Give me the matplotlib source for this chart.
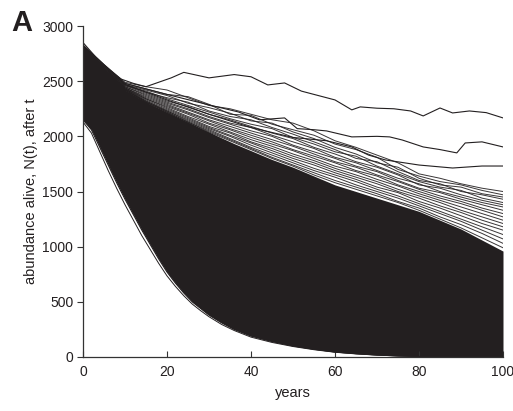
import numpy as np
import matplotlib.pyplot as plt

plt.rcParams['font.family'] = ['Liberation Sans', 'DejaVu Sans']

ink = '#231f20'

years5 = [0, 5, 10, 15, 20, 25, 30, 35, 40, 45, 50, 55, 60, 65, 70, 75, 80, 85, 90, 95, 100]

# upper edge of the solid black bundle
core_top = [2800, 2600, 2420, 2310, 2220, 2130, 2040, 1950, 1870, 1790, 1720, 1640,
            1560, 1500, 1440, 1380, 1320, 1240, 1160, 1060, 960]

# lower edge of the bundle (the runs that die out fastest)
low_t = [0, 2, 4, 6, 8, 10, 12, 14, 16, 18, 20, 22, 24, 26, 28, 30, 33, 36, 40,
         45, 50, 55, 60, 65, 70, 75, 80, 85, 90, 100]
low_edge = [2150, 2060, 1900, 1740, 1580, 1430, 1290, 1150, 1020, 890, 770, 670,
            580, 500, 440, 380, 310, 250, 190, 140, 100, 70, 45, 30, 18, 10, 5, 2, 0, 0]
low_outer = [2130, 2030, 1860, 1690, 1530, 1380, 1240, 1100, 975, 850, 735, 640,
             555, 480, 420, 365, 295, 240, 180, 132, 95, 66, 43, 28, 17, 9, 4, 1, 0, 0]

# the three runs that stay well above the rest
top_t = [0, 3, 6, 9, 12, 15, 18, 21, 24, 27, 30, 33, 36, 40, 44, 48, 52, 56, 60,
         64, 66, 70, 74, 78, 81, 85, 88, 92, 96, 100]
top_n = [2850, 2720, 2610, 2520, 2480, 2450, 2490, 2530, 2580, 2555, 2530, 2545,
         2560, 2540, 2466, 2484, 2410, 2370, 2330, 2240, 2267, 2255, 2250, 2230,
         2185, 2257, 2212, 2230, 2215, 2167]

second_t = [0, 10, 20, 30, 37, 42, 48, 51, 55, 58, 64, 70, 73, 76, 81, 85, 89, 91, 95, 100]
second_n = [2820, 2480, 2380, 2285, 2221, 2150, 2167, 2070, 2060, 2049, 1995, 2000,
            1995, 1967, 1904, 1880, 1850, 1940, 1950, 1904]

third_t = [0, 10, 20, 30, 40, 50, 58, 64, 68, 72, 80, 88, 95, 100]
third_n = [2800, 2470, 2330, 2200, 2080, 1990, 1960, 1904, 1830, 1786, 1740, 1713, 1731, 1731]

# runs fanning out above the bundle, every 5 years
fan_runs = [
    [2830, 2650, 2490, 2450, 2420, 2350, 2280, 2250, 2200, 2150, 2120, 2050, 1960, 1900, 1830, 1760, 1660, 1620, 1570, 1530, 1500],
    [2825, 2640, 2480, 2430, 2380, 2360, 2290, 2200, 2190, 2110, 2060, 2010, 1930, 1880, 1810, 1700, 1640, 1590, 1560, 1510, 1470],
    [2820, 2630, 2470, 2420, 2370, 2300, 2260, 2210, 2140, 2120, 2040, 1980, 1900, 1840, 1760, 1720, 1620, 1560, 1540, 1480, 1450],
    [2820, 2630, 2470, 2400, 2350, 2310, 2230, 2180, 2150, 2080, 2020, 1950, 1880, 1800, 1770, 1680, 1600, 1570, 1500, 1470, 1430],
    [2815, 2620, 2460, 2410, 2340, 2280, 2220, 2160, 2110, 2070, 1990, 1930, 1860, 1820, 1730, 1660, 1590, 1540, 1510, 1440, 1400],
    [2815, 2620, 2460, 2390, 2320, 2270, 2200, 2150, 2090, 2030, 1980, 1900, 1840, 1770, 1720, 1650, 1560, 1530, 1470, 1420, 1380],
    [2810, 2620, 2450, 2380, 2310, 2250, 2180, 2120, 2080, 2010, 1950, 1890, 1810, 1760, 1690, 1620, 1570, 1500, 1450, 1400, 1360],
    [2810, 2610, 2450, 2370, 2300, 2240, 2170, 2110, 2050, 2000, 1920, 1860, 1800, 1730, 1680, 1600, 1530, 1490, 1430, 1380, 1330],
    [2810, 2610, 2440, 2360, 2290, 2220, 2150, 2090, 2030, 1970, 1910, 1840, 1770, 1720, 1650, 1590, 1520, 1460, 1410, 1350, 1300],
    [2805, 2610, 2440, 2350, 2280, 2210, 2140, 2070, 2010, 1950, 1880, 1820, 1760, 1690, 1640, 1560, 1500, 1440, 1390, 1330, 1270],
    [2805, 2600, 2440, 2340, 2270, 2200, 2120, 2060, 1990, 1930, 1870, 1800, 1730, 1680, 1610, 1550, 1480, 1420, 1360, 1300, 1240],
    [2805, 2600, 2430, 2340, 2260, 2180, 2110, 2040, 1970, 1910, 1840, 1780, 1710, 1650, 1590, 1520, 1460, 1400, 1330, 1270, 1210],
    [2800, 2600, 2430, 2330, 2250, 2170, 2090, 2030, 1950, 1890, 1820, 1760, 1690, 1630, 1570, 1500, 1440, 1370, 1310, 1240, 1180],
    [2800, 2600, 2430, 2320, 2240, 2160, 2080, 2010, 1940, 1870, 1800, 1740, 1670, 1610, 1540, 1490, 1410, 1350, 1280, 1210, 1150],
    [2800, 2600, 2420, 2320, 2230, 2150, 2070, 2000, 1920, 1850, 1780, 1710, 1650, 1590, 1520, 1460, 1390, 1320, 1250, 1180, 1110],
    [2800, 2600, 2420, 2310, 2230, 2140, 2060, 1980, 1900, 1830, 1760, 1690, 1630, 1560, 1500, 1440, 1370, 1300, 1230, 1150, 1070],
    [2800, 2600, 2420, 2310, 2220, 2130, 2050, 1970, 1890, 1810, 1740, 1670, 1600, 1540, 1480, 1410, 1350, 1270, 1200, 1120, 1030],
    [2800, 2600, 2420, 2310, 2220, 2130, 2040, 1960, 1880, 1800, 1730, 1650, 1580, 1520, 1460, 1400, 1330, 1250, 1170, 1080, 990],
]

fig = plt.figure(figsize=(5.13, 4.11), dpi=100)
ax = fig.add_axes([0.1618, 0.1314, 0.8187, 0.8053])

# solid bundle between the lower edge and the top of the dense part
grid_t = np.array(low_t)
upper = np.interp(grid_t, years5, core_top)
ax.fill_between(grid_t, low_edge, upper, color=ink, lw=0)

ax.plot(low_t, low_edge, color=ink, lw=0.8)
ax.plot(low_t, low_outer, color=ink, lw=0.7)

for run in fan_runs:
    ax.plot(years5, run, color=ink, lw=0.7, alpha=0.9)
ax.plot(third_t, third_n, color=ink, lw=0.8)
ax.plot(second_t, second_n, color=ink, lw=0.8)
ax.plot(top_t, top_n, color=ink, lw=0.8)

ax.set_xlim(0, 100)
ax.set_ylim(0, 3000)
ax.set_xticks([0, 20, 40, 60, 80, 100])
ax.set_yticks([0, 500, 1000, 1500, 2000, 2500, 3000])
ax.spines['top'].set_visible(False)
ax.spines['right'].set_visible(False)
for s in ('left', 'bottom'):
    ax.spines[s].set_color('#333333')
    ax.spines[s].set_linewidth(0.9)
ax.tick_params(axis='x', direction='in', length=4, pad=6, labelsize=10,
               colors='#333333', labelcolor=ink)
ax.tick_params(axis='y', direction='out', length=4, pad=3, labelsize=10,
               colors='#333333', labelcolor=ink)

ax.set_xlabel('years', fontsize=10.5, color=ink, labelpad=5)
ax.set_ylabel('abundance alive, N(t), after t', fontsize=10.5, color=ink, labelpad=3)
fig.text(0.022, 0.925, 'A', fontsize=21, fontweight='bold', color=ink)

fig.savefig('out.png', dpi=100)
